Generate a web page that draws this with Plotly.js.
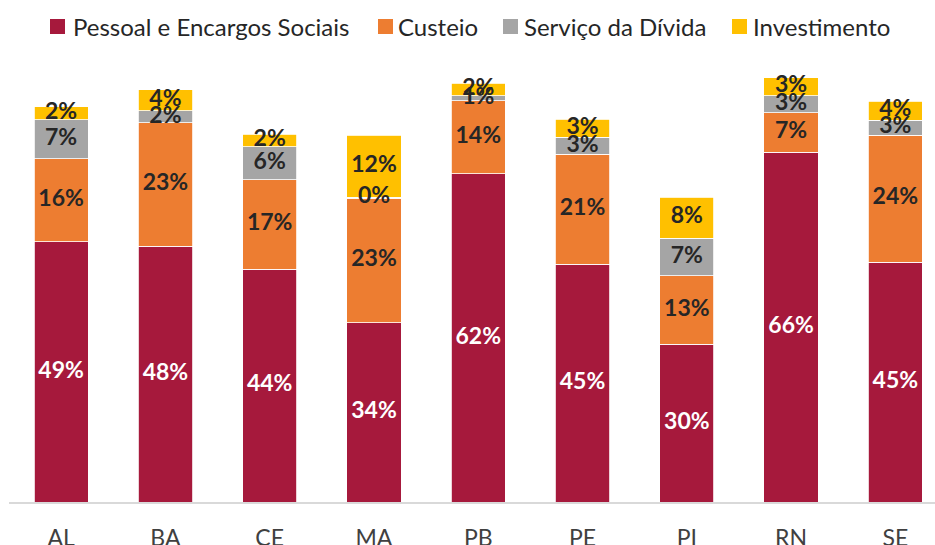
<!DOCTYPE html>
<html>
<head>
<meta charset="utf-8">
<script src="https://cdn.plot.ly/plotly-3.0.1.min.js"></script>
<style>html,body{margin:0;padding:0;background:#fff;}#chart{width:935px;height:545px;}</style>
</head>
<body>
<div id="chart"></div>
<script>
const categories = ['AL','BA','CE','MA','PB','PE','PI','RN','SE'];
const pessoal = [48.8, 48.0, 43.7, 33.6, 61.6, 44.6, 29.6, 65.6, 45.0];
const custeio = [15.6, 23.1, 16.7, 23.4, 13.7, 20.6, 12.8, 7.4, 23.8];
const servico = [7.3, 2.3, 6.2, 0.2, 0.9, 3.2, 7.1, 3.2, 2.8];
const investimento = [2.4, 3.9, 2.4, 11.6, 2.3, 3.4, 7.7, 3.4, 3.6];
const seriesNames = ['Pessoal e Encargos Sociais','Custeio','Serviço da Dívida','Investimento'];
const seriesColors = ['#A6193C','#ED7D31','#A5A5A5','#FFC000'];
const textColors = ['#FFFFFF','#262626','#262626','#262626'];
const seriesValues = [pessoal, custeio, servico, investimento];

const FONT = 'Lato, sans-serif';
const traces = [];
const base = categories.map(() => 0);
const labelTraces = [];
seriesValues.forEach((vals, i) => {
  traces.push({
    type: 'bar',
    name: seriesNames[i],
    x: categories,
    y: vals,
    marker: {color: seriesColors[i], line: {color: '#ffffff', width: 0.8}},
    showlegend: false,
    hoverinfo: 'none'
  });
  labelTraces.push({
    type: 'scatter',
    mode: 'text',
    x: categories,
    y: vals.map((v, k) => base[k] + v / 2),
    text: vals.map(v => Math.round(v) + '%'),
    textposition: 'middle center',
    textfont: {family: FONT, size: 23, color: textColors[i], weight: 'bold'},
    cliponaxis: false,
    showlegend: false,
    hoverinfo: 'skip'
  });
  vals.forEach((v, k) => { base[k] += v; });
});

// custom legend (pixel positions converted to paper coords)
const W = 935, H = 545, L = 9, R = 0, T = 60, B = 43;
const pw = W - L - R, ph = H - T - B;
const px = x => (x - L) / pw;
const py = y => (H - B - y) / ph;
const legendMarkerX = [50, 378, 503, 732];
const legendTextX = [71, 396, 522, 751];
const legendY = 26.5;
const shapes = seriesNames.map((n, i) => ({
  type: 'rect', xref: 'paper', yref: 'paper',
  x0: px(legendMarkerX[i]), x1: px(legendMarkerX[i] + 15),
  y0: py(legendY + 7.5), y1: py(legendY - 7.5),
  fillcolor: seriesColors[i], line: {width: 0}
}));
const annotations = seriesNames.map((n, i) => ({
  xref: 'paper', yref: 'paper', x: px(legendTextX[i]), y: py(legendY),
  xanchor: 'left', yanchor: 'middle', text: n, showarrow: false,
  font: {family: FONT, size: 24, color: '#262626'}
}));

const layout = {
  width: W, height: H,
  margin: {l: L, r: R, t: T, b: B},
  barmode: 'stack',
  bargap: 0.48,
  paper_bgcolor: '#ffffff',
  plot_bgcolor: '#ffffff',
  showlegend: false,
  shapes: shapes,
  annotations: annotations,
  xaxis: {range: [-0.5, 8.38], showline: true, linecolor: '#D9D9D9', linewidth: 1.5,
    ticks: '', ticklabelstandoff: 15, showgrid: false,
    tickfont: {family: FONT, size: 23, color: '#404040'}, fixedrange: true},
  yaxis: {range: [0, 82.9], visible: false, showgrid: false, zeroline: false, fixedrange: true}
};

Plotly.newPlot('chart', traces.concat(labelTraces), layout, {displayModeBar: false, staticPlot: true});
</script>
</body>
</html>
